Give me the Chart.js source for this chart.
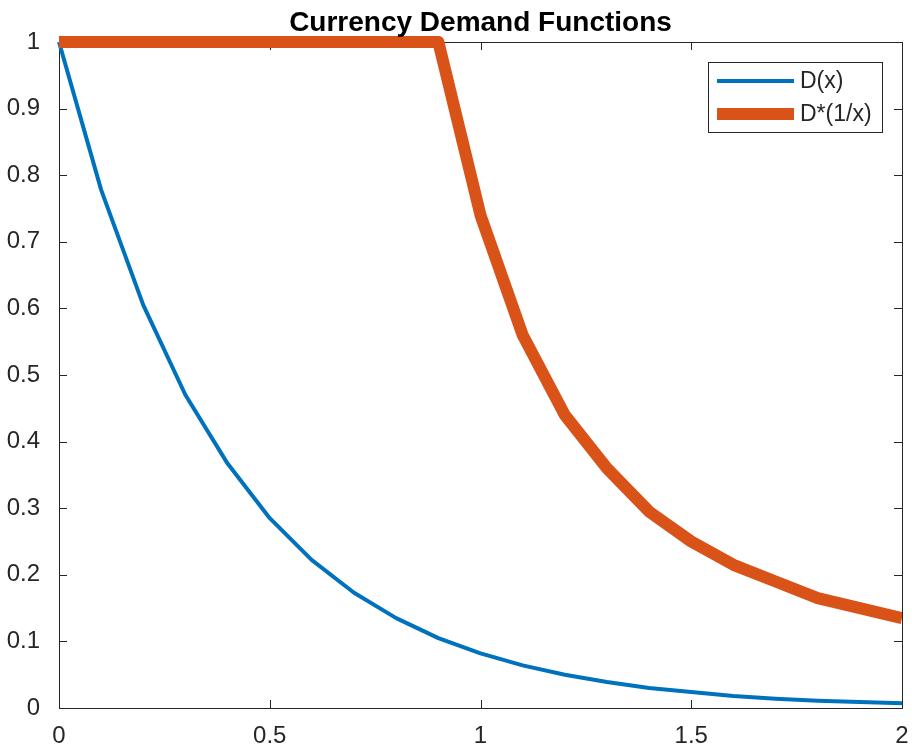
<!DOCTYPE html>
<html>
<head>
<meta charset="utf-8">
<script src="https://cdn.jsdelivr.net/npm/chart.js@4.4.1/dist/chart.umd.min.js"></script>
<style>
  html, body { margin: 0; padding: 0; background: #fff; }
  #wrap { width: 912px; height: 749px; }
</style>
</head>
<body>
<div id="wrap"><canvas id="demandChart" width="912" height="749"></canvas></div>
<script>
'use strict';

// данные
const xValues = [0, 0.1, 0.2, 0.3, 0.4, 0.5, 0.6, 0.7, 0.8, 0.9, 1.0,
    1.1, 1.2, 1.3, 1.4, 1.5, 1.6, 1.7, 1.8, 1.9, 2.0];
const demandValues = [1.0, 0.778, 0.605, 0.47, 0.367, 0.285, 0.222, 0.173, 0.135, 0.105, 0.082,
    0.064, 0.05, 0.039, 0.030, 0.024, 0.018, 0.014, 0.011, 0.009, 0.007];
const dualDemandValues = [1, 1, 1, 1, 1, 1, 1, 1, 1, 1, 0.74,
    0.56, 0.44, 0.36, 0.295, 0.25, 0.215, 0.19, 0.165, 0.15, 0.135];
const xTicks = [0, 0.5, 1, 1.5, 2];
const yTicks = [0, 0.1, 0.2, 0.3, 0.4, 0.5, 0.6, 0.7, 0.8, 0.9, 1];
const seriesLabels = ['D(x)', 'D*(1/x)'];
const titleText = 'Currency Demand Functions';

const BLUE = '#0072BD';
const ORANGE = '#D95319';
const AXIS = '#262626';
const FONT = '"Liberation Sans", Arial, Helvetica, sans-serif';

const toPoints = ys => xValues.map((x, i) => ({ x: x, y: ys[i] }));
// подписи как в MATLAB: 1 вместо 1.0
const tickText = v => String(Math.round(v * 10) / 10);

// рамка, внутренние засечки, заголовок и легенда в стиле MATLAB
const matlabFrame = {
    id: 'matlabFrame',
    beforeDatasetsDraw(chart) {
        const { ctx, chartArea: a, scales } = chart;
        const len = 8;
        ctx.save();
        ctx.strokeStyle = AXIS;
        ctx.lineWidth = 1;
        ctx.strokeRect(a.left + 0.5, a.top + 0.5, a.right - a.left, a.bottom - a.top);
        ctx.beginPath();
        xTicks.forEach(v => {
            const px = Math.round(scales.x.getPixelForValue(v)) + 0.5;
            ctx.moveTo(px, a.bottom); ctx.lineTo(px, a.bottom - len);
            ctx.moveTo(px, a.top); ctx.lineTo(px, a.top + len);
        });
        yTicks.forEach(v => {
            const py = Math.round(scales.y.getPixelForValue(v)) + 0.5;
            ctx.moveTo(a.left, py); ctx.lineTo(a.left + len, py);
            ctx.moveTo(a.right, py); ctx.lineTo(a.right - len, py);
        });
        ctx.stroke();
        ctx.restore();
    },
    afterDraw(chart) {
        const { ctx, chartArea: a } = chart;
        ctx.save();
        // заголовок
        ctx.fillStyle = '#000';
        ctx.font = 'bold 28px ' + FONT;
        ctx.textAlign = 'center';
        ctx.textBaseline = 'alphabetic';
        ctx.fillText(titleText, (a.left + a.right) / 2, 31);

        // легенда
        const bx = 708, by = 62, bw = 174, bh = 70;
        ctx.fillStyle = '#fff';
        ctx.fillRect(bx, by, bw, bh);
        ctx.strokeStyle = AXIS;
        ctx.lineWidth = 1;
        ctx.strokeRect(bx + 0.5, by + 0.5, bw, bh);
        const rows = [
            { label: seriesLabels[0], color: BLUE, width: 4, y: 81 },
            { label: seriesLabels[1], color: ORANGE, width: 12, y: 114 }
        ];
        ctx.font = '23px ' + FONT;
        ctx.textAlign = 'left';
        ctx.textBaseline = 'middle';
        rows.forEach(r => {
            ctx.strokeStyle = r.color;
            ctx.lineWidth = r.width;
            ctx.beginPath();
            ctx.moveTo(717, r.y);
            ctx.lineTo(794, r.y);
            ctx.stroke();
            ctx.fillStyle = AXIS;
            ctx.fillText(r.label, 800, r.y + 1);
        });
        ctx.restore();
    }
};

const demandChart = new Chart(document.getElementById('demandChart'), {
    type: 'line',
    data: {
        datasets: [{
            label: seriesLabels[0],
            data: toPoints(demandValues),
            borderColor: BLUE,
            borderWidth: 4,
            borderJoinStyle: 'round',
            pointRadius: 0,
            tension: 0,
            order: 1,
            clip: { left: 4, right: 0, top: 4, bottom: 0 }
        }, {
            label: seriesLabels[1],
            data: toPoints(dualDemandValues),
            borderColor: ORANGE,
            borderWidth: 12,
            borderJoinStyle: 'round',
            pointRadius: 0,
            tension: 0,
            order: 0,
            clip: { left: 0, right: 0, top: 8, bottom: 0 }
        }]
    },
    options: {
        responsive: false,
        animation: false,
        devicePixelRatio: 1,
        layout: {
            padding: { top: 42, right: 10, left: 0, bottom: 0 }
        },
        plugins: {
            legend: { display: false },
            title: { display: false },
            tooltip: { enabled: false }
        },
        scales: {
            x: {
                type: 'linear',
                min: 0,
                max: 2,
                afterFit: s => {
                    s.height = 41;
                    s.paddingLeft = 0;
                    s.paddingRight = 0;
                },
                afterBuildTicks: s => { s.ticks = xTicks.map(v => ({ value: v })); },
                grid: { display: false },
                border: { display: false },
                ticks: {
                    color: AXIS,
                    padding: 6,
                    maxRotation: 0,
                    callback: tickText,
                    font: { family: FONT, size: 24 }
                }
            },
            y: {
                min: 0,
                max: 1,
                afterFit: s => {
                    s.width = 59;
                    s.paddingTop = 0;
                    s.paddingBottom = 0;
                },
                afterBuildTicks: s => { s.ticks = yTicks.map(v => ({ value: v })); },
                grid: { display: false },
                border: { display: false },
                ticks: {
                    color: AXIS,
                    padding: 11,
                    callback: tickText,
                    font: { family: FONT, size: 24 }
                }
            }
        }
    },
    plugins: [matlabFrame]
});
</script>
</body>
</html>
